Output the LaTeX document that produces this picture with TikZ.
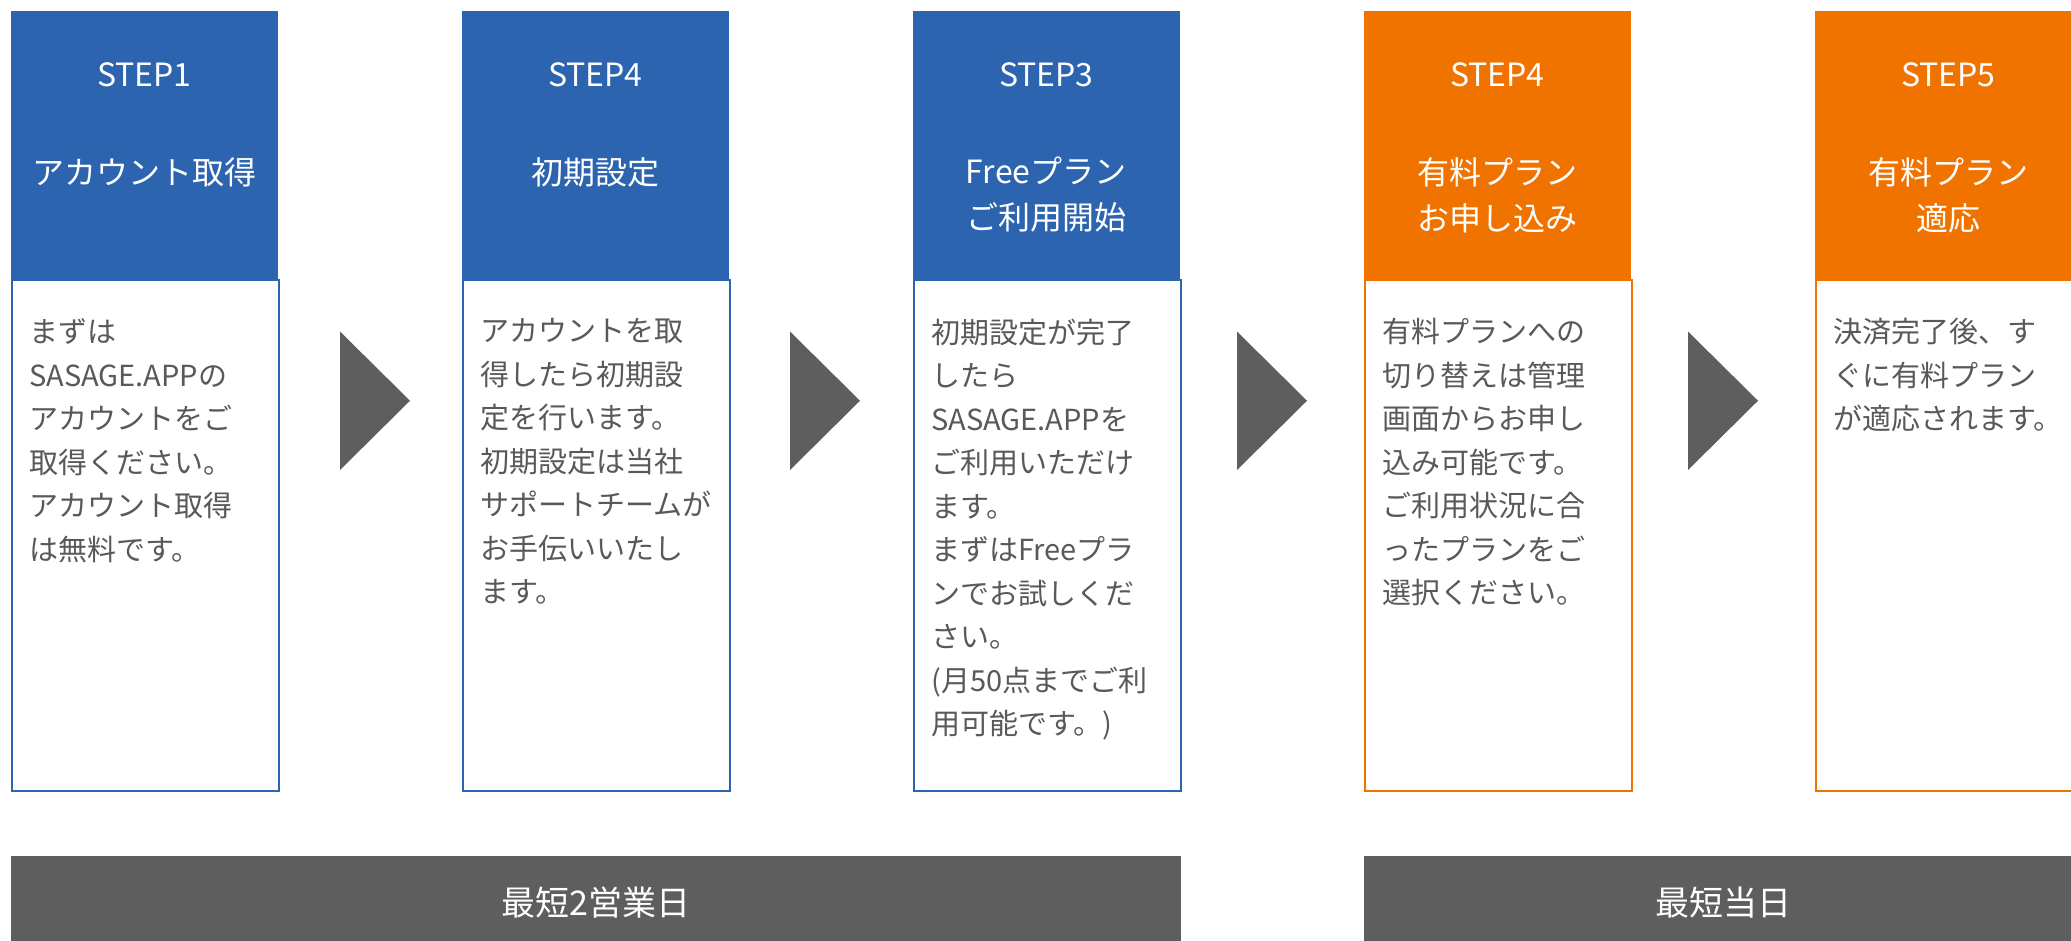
\documentclass[tikz,border=0pt]{standalone}
\usepackage{fontspec}
\setmainfont{Noto Sans CJK JP}
\definecolor{stepblue}{RGB}{44,100,175}
\definecolor{steporange}{RGB}{240,115,0}
\definecolor{arrowgray}{RGB}{94,94,94}
\definecolor{textgray}{RGB}{89,89,89}
\tikzset{
  head/.style={anchor=north west, inner sep=0pt, minimum width=267pt, minimum height=268.5pt},
  body/.style={anchor=north west, inner sep=0pt, line width=2pt, fill=white, minimum width=267pt, minimum height=511pt},
  steplabel/.style={text=white, inner sep=0pt, font=\fontsize{32}{40}\selectfont},
  steptitle/.style={text=white, inner sep=0pt, anchor=north, align=center, font=\fontsize{32}{46}\selectfont},
  bodytext/.style={text=textgray, inner sep=0pt, anchor=north west, align=left, font=\fontsize{29}{43.5}\selectfont},
  bar/.style={fill=arrowgray, text=white, inner sep=0pt, minimum height=94pt, font=\fontsize{34}{40}\selectfont}
}
\begin{document}
\begin{tikzpicture}[x=1pt,y=-1pt]
\clip (0,0) rectangle (2071,940);

% step boxes
\foreach \i/\col/\stp/\ttl/\txt in {
  0/stepblue/STEP1/{アカウント取得}/{まずは\\SASAGE.APPの\\アカウントをご\\取得ください。\\アカウント取得\\は無料です。},
  1/stepblue/STEP4/{初期設定}/{アカウントを取\\得したら初期設\\定を行います。\\初期設定は当社\\サポートチームが\\お手伝いいたし\\ます。},
  2/stepblue/STEP3/{Freeプラン\\ご利用開始}/{初期設定が完了\\したら\\SASAGE.APPを\\ご利用いただけ\\ます。\\まずはFreeプラ\\ンでお試しくだ\\さい。\\(月50点までご利\\用可能です。)},
  3/steporange/STEP4/{有料プラン\\お申し込み}/{有料プランへの\\切り替えは管理\\画面からお申し\\込み可能です。\\ご利用状況に合\\ったプランをご\\選択ください。},
  4/steporange/STEP5/{有料プラン\\適応}/{決済完了後、す\\ぐに有料プラン\\が適応されます。}}
{
  \node[head, fill=\col] (head\i) at ({10.5+451*\i},10.5) {};
  \node[body, draw=\col] (body\i) at (head\i.south west) {};
  \node[steplabel] (stp\i) at ([yshift=-64.5pt]head\i.north) {\stp};
  \node[steptitle] (ttl\i) at ([yshift=-146.5pt]head\i.north) {\ttl};
  \node[bodytext] (txt\i) at ([xshift=18.5pt,yshift=-39pt]body\i.north west) {\txt};
}

% arrows between steps
\foreach \x in {340,790,1237,1688}
  \fill[arrowgray] (\x,331.5) -- ({\x+70},400.75) -- (\x,470) -- cycle;

% lead times
\node[bar, minimum width=1170.5pt] (bar0) at (595.75,903) {最短2営業日};
\node[bar, minimum width=718.5pt] (bar1) at (1723.25,903) {最短当日};

\end{tikzpicture}
\end{document}
